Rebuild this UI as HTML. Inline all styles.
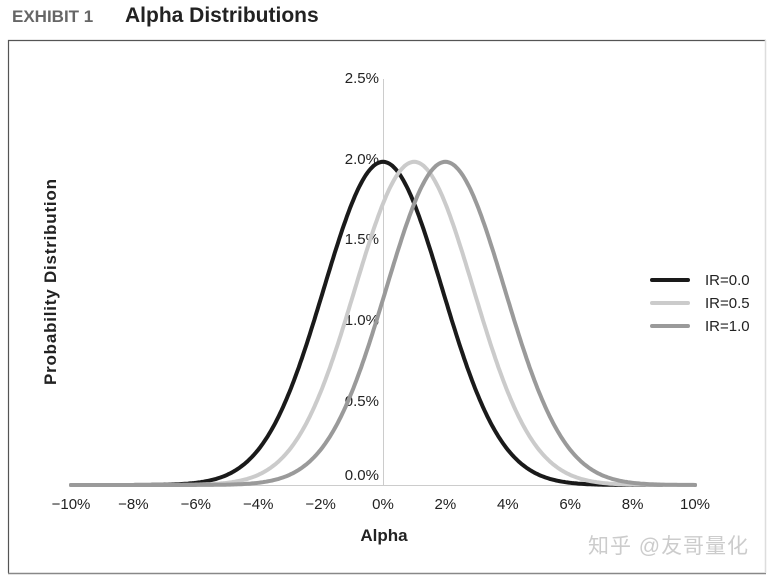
<!DOCTYPE html>
<html><head><meta charset="utf-8"><style>
body{margin:0;background:#fff;}
svg{display:block;font-family:"Liberation Sans","Noto Sans CJK SC",sans-serif;}
</style></head><body>
<svg id="s" width="769" height="576" viewBox="0 0 769 576">
<text x="12" y="22" font-size="17" font-weight="bold" fill="#666">EXHIBIT 1</text>
<text x="125" y="22" font-size="21" font-weight="bold" fill="#222">Alpha Distributions</text>
<path d="M8.5,573 V40.5 H766" fill="none" stroke="#555" stroke-width="1.2"/>
<line x1="8" y1="573.5" x2="766" y2="573.5" stroke="#888" stroke-width="1.5"/>
<line x1="765.5" y1="40" x2="765.5" y2="573" stroke="#ddd" stroke-width="1.5"/>
<line x1="383.5" y1="79" x2="383.5" y2="485" stroke="#ccc" stroke-width="1"/>
<line x1="71" y1="485.5" x2="695" y2="485.5" stroke="#ccc" stroke-width="1"/>
<g font-size="15" fill="#222" text-anchor="end">
<text x="379" y="83">2.5%</text>
<text x="379" y="164">2.0%</text>
<text x="379" y="244">1.5%</text>
<text x="379" y="325">1.0%</text>
<text x="379" y="406">0.5%</text>
<text x="379" y="480">0.0%</text>
</g>
<g font-size="15" fill="#222" text-anchor="middle" id="xl"></g>
<text x="384" y="541" font-size="17" font-weight="bold" fill="#222" text-anchor="middle">Alpha</text>
<text transform="translate(56,282) rotate(-90)" font-size="17" font-weight="bold" fill="#222" text-anchor="middle" textLength="206">Probability Distribution</text>
<g id="curves" fill="none" stroke-width="4" stroke-linecap="round"></g>
<line x1="652" y1="280" x2="688" y2="280" stroke="#1a1a1a" stroke-width="4" stroke-linecap="round"/>
<line x1="652" y1="303" x2="688" y2="303" stroke="#cbcbcb" stroke-width="4" stroke-linecap="round"/>
<line x1="652" y1="326" x2="688" y2="326" stroke="#9a9a9a" stroke-width="4" stroke-linecap="round"/>
<g font-size="15" fill="#222">
<text x="705" y="285">IR=0.0</text>
<text x="705" y="308">IR=0.5</text>
<text x="705" y="331">IR=1.0</text>
</g>
<text x="588" y="553" font-size="21" fill="#ccc" textLength="160">知乎 @友哥量化</text>
</svg>
<script>
var ns="http://www.w3.org/2000/svg";
var xl=document.getElementById("xl");
for(var v=-10;v<=10;v+=2){var t=document.createElementNS(ns,"text");t.setAttribute("x",383+v*31.2);t.setAttribute("y",509);t.textContent=(v<0?"\u2212"+(-v):v)+"%";xl.appendChild(t);}
var g=document.getElementById("curves");
[[0,"#1a1a1a"],[1,"#cbcbcb"],[2,"#9a9a9a"]].forEach(function(c){
var d="";for(var x=-10;x<=10.001;x+=0.05){var y=1.99*Math.exp(-Math.pow(x-c[0],2)/(2*1.9*1.9));
d+=(d?"L":"M")+(383+x*31.2).toFixed(1)+","+(485-y*162.4).toFixed(1);}
var p=document.createElementNS(ns,"path");p.setAttribute("d",d);p.setAttribute("stroke",c[1]);g.appendChild(p);});
</script>
</body></html>
